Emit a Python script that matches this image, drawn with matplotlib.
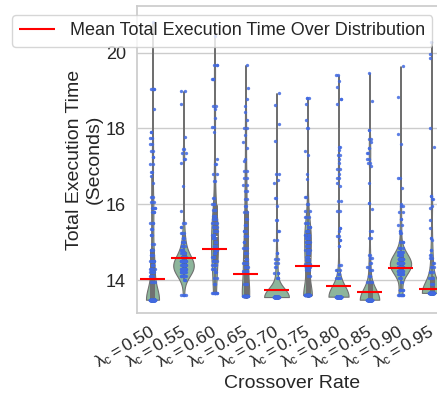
import numpy as np
import pandas as pd
import matplotlib
matplotlib.use('Agg')
import matplotlib.pyplot as plt
import matplotlib.transforms as mtransforms
import seaborn as sns

rates = ['0.50', '0.55', '0.60', '0.65', '0.70', '0.75', '0.80', '0.85', '0.90', '0.95']

# execution times (seconds), as value levels + how many runs sit there
vals_050 = [20.8, 19.05, 18.5, 17.9, 17.75, 17.6, 17.4, 17.25, 17.05, 16.85, 16.75, 16.55, 16.2, 16.05,
            15.9, 15.8, 15.5, 15.35, 15.2, 14.95, 14.8, 14.65, 14.5, 14.4, 14.3, 14.2, 14.1, 13.95, 13.48]
cnt_050 = [1, 4, 1, 2, 2, 2, 2, 2, 2, 2, 1, 1, 3, 3, 4, 3, 3, 3, 3, 2, 3, 4, 5, 6, 6, 6, 6, 3, 100]

vals_055 = [18.98, 18.65, 17.78, 17.45, 17.35, 17.2, 17.1, 16.48, 15.83, 15.5, 15.4, 15.25, 15.1, 15.0,
            14.9, 14.8, 14.7, 14.6, 14.5, 14.4, 14.3, 14.2, 14.1, 14.0, 13.6]
cnt_055 = [2, 1, 1, 2, 2, 2, 1, 1, 1, 2, 2, 3, 3, 4, 4, 5, 7, 13, 20, 25, 25, 18, 8, 3, 5]

vals_060 = [20.45, 19.67, 19.3, 18.6, 18.5, 18.27, 18.05, 17.9, 17.18, 17.05, 16.8, 16.6, 16.17, 16.0,
            15.85, 15.7, 15.6, 15.5, 15.4, 15.3, 15.2, 15.1, 15.0, 14.9, 14.8, 14.7, 14.6, 14.5, 14.4,
            14.3, 14.2, 14.05, 13.9, 13.65]
cnt_060 = [1, 3, 3, 2, 1, 1, 2, 1, 1, 2, 2, 2, 2, 3, 3, 3, 3, 4, 4, 4, 4, 4, 4, 4, 4, 4, 4, 4, 4,
           3, 2, 2, 2, 10]

vals_065 = [19.67, 19.07, 18.78, 18.6, 18.44, 18.23, 18.0, 17.83, 17.65, 17.47, 17.2, 17.13, 16.87, 16.7,
            16.5, 16.35, 16.15, 15.95, 15.8, 15.6, 15.45, 15.3, 15.15, 15.0, 14.85, 14.7, 14.55, 14.45,
            14.35, 14.25, 14.18, 13.9, 13.58]
cnt_065 = [1, 1, 1, 1, 1, 1, 2, 1, 1, 1, 1, 1, 2, 2, 2, 2, 2, 2, 2, 2, 3, 3, 3, 3, 3, 3, 4, 4,
           4, 4, 3, 3, 32]

vals_070 = [18.93, 18.62, 18.12, 17.68, 16.8, 16.65, 16.56, 16.17, 15.96, 15.57, 15.3, 15.05, 14.7, 14.55,
            14.45, 14.34, 14.18, 14.05, 13.55]
cnt_070 = [1, 1, 1, 1, 2, 1, 1, 2, 1, 2, 2, 2, 2, 2, 2, 2, 3, 3, 110]

vals_075 = [18.8, 18.65, 18.23, 18.0, 17.4, 17.3, 16.8, 16.66, 16.2, 16.0, 15.83, 15.65, 15.5, 15.4,
            15.3, 15.2, 15.1, 15.0, 14.9, 14.8, 14.7, 14.6, 14.52, 14.42, 14.34, 14.26, 14.1, 13.6]
cnt_075 = [3, 1, 1, 2, 1, 1, 1, 1, 2, 2, 2, 3, 4, 4, 5, 5, 5, 5, 4, 4, 3, 3, 4, 5, 5, 3, 2, 40]

vals_080 = [19.4, 19.24, 19.09, 18.78, 18.65, 17.52, 17.44, 17.3, 17.18, 17.08, 16.92, 16.8, 16.7, 16.56,
            16.48, 16.09, 15.83, 15.38, 15.3, 15.17, 15.05, 14.91, 14.39, 14.26, 14.15, 14.05, 13.56]
cnt_080 = [2, 1, 1, 2, 1, 2, 1, 2, 1, 1, 2, 1, 2, 1, 1, 2, 2, 2, 1, 2, 2, 2, 2, 3, 3, 4, 150]

vals_085 = [19.46, 18.73, 17.97, 17.73, 17.65, 17.47, 17.35, 17.2, 17.08, 17.0, 16.56, 16.04, 15.88, 15.3,
            15.12, 14.65, 14.57, 14.45, 14.35, 14.26, 14.1, 13.95, 13.48]
cnt_085 = [1, 1, 2, 2, 1, 2, 2, 2, 2, 1, 1, 2, 1, 2, 2, 2, 2, 2, 2, 3, 3, 3, 120]

vals_090 = [19.64, 18.83, 17.86, 17.6, 16.7, 16.43, 16.0, 15.96, 15.8, 15.6, 15.45, 15.3, 15.23, 15.0,
            14.85, 14.75, 14.65, 14.55, 14.45, 14.35, 14.25, 14.15, 14.05, 13.95, 13.74, 13.6]
cnt_090 = [1, 1, 1, 1, 2, 1, 1, 2, 2, 2, 2, 2, 2, 3, 5, 8, 14, 21, 25, 25, 19, 10, 4, 2, 6, 10]

vals_095 = [20.29, 19.95, 19.87, 18.0, 17.52, 16.22, 16.14, 15.96, 15.9, 15.57, 15.36, 15.12, 15.05, 14.78,
            14.65, 14.57, 14.45, 14.34, 14.2, 14.05, 13.9, 13.66]
cnt_095 = [1, 1, 1, 1, 1, 2, 2, 1, 1, 1, 1, 2, 1, 2, 2, 2, 2, 3, 3, 3, 3, 85]

# mean per rate (red lines)
means = [14.02, 14.58, 14.81, 14.15, 13.74, 14.37, 13.83, 13.68, 14.32, 13.77]

all_vals = [vals_050, vals_055, vals_060, vals_065, vals_070, vals_075, vals_080, vals_085, vals_090, vals_095]
all_cnts = [cnt_050, cnt_055, cnt_060, cnt_065, cnt_070, cnt_075, cnt_080, cnt_085, cnt_090, cnt_095]

labels = [r'$\lambda_c = %s$' % r for r in rates]
rows = []
for lab, v, c in zip(labels, all_vals, all_cnts):
    for t in np.repeat(v, c):
        rows.append((lab, t))
df = pd.DataFrame(rows, columns=['rate', 'time'])

sns.set_theme(style='whitegrid')
plt.rcParams['font.family'] = ['Liberation Sans', 'DejaVu Sans']
plt.rcParams['mathtext.fontset'] = 'custom'
plt.rcParams['mathtext.rm'] = 'Liberation Sans'
plt.rcParams['mathtext.it'] = 'Liberation Sans'

np.random.seed(3)
fig = plt.figure(figsize=(4.37, 4.01), dpi=100)
ax = fig.add_axes([0.3135, 0.2195, 0.7094, 0.7656])

sns.violinplot(data=df, x='rate', y='time', order=labels, color='#8db59b', saturation=1,
               cut=0, bw_adjust=0.6, inner='box', linecolor='#707070', linewidth=0.8, ax=ax)
sns.stripplot(data=df, x='rate', y='time', order=labels, color='royalblue', size=2.4,
              jitter=0.08, alpha=0.85, ax=ax)

xs = np.arange(len(labels))
ax.hlines(means, xs - 0.4, xs + 0.4, colors='red', linewidth=1.5, zorder=5,
          label='Mean Total Execution Time Over Distribution')

ax.set_xlim(-0.5, 9.5)
ax.set_ylim(13.13, 21.23)
ax.set_yticks([14, 16, 18, 20])
ax.set_xlabel('Crossover Rate', fontsize=14, labelpad=2)
ax.set_ylabel('Total Execution Time\n(Seconds)', fontsize=14, labelpad=2)
ax.tick_params(axis='y', labelsize=13, pad=2)
ax.tick_params(axis='x', labelsize=12.5, pad=1)
shift = mtransforms.ScaledTranslation(-3 / 100, 0, fig.dpi_scale_trans)
for t in ax.get_xticklabels():
    t.set_rotation(30)
    t.set_ha('right')
    t.set_rotation_mode('anchor')
    t.set_transform(t.get_transform() + shift)

ax.legend(loc='upper left', bbox_to_anchor=(-0.403, 0.97), borderaxespad=0, fontsize=13)

fig.savefig('out.png', dpi=100)
